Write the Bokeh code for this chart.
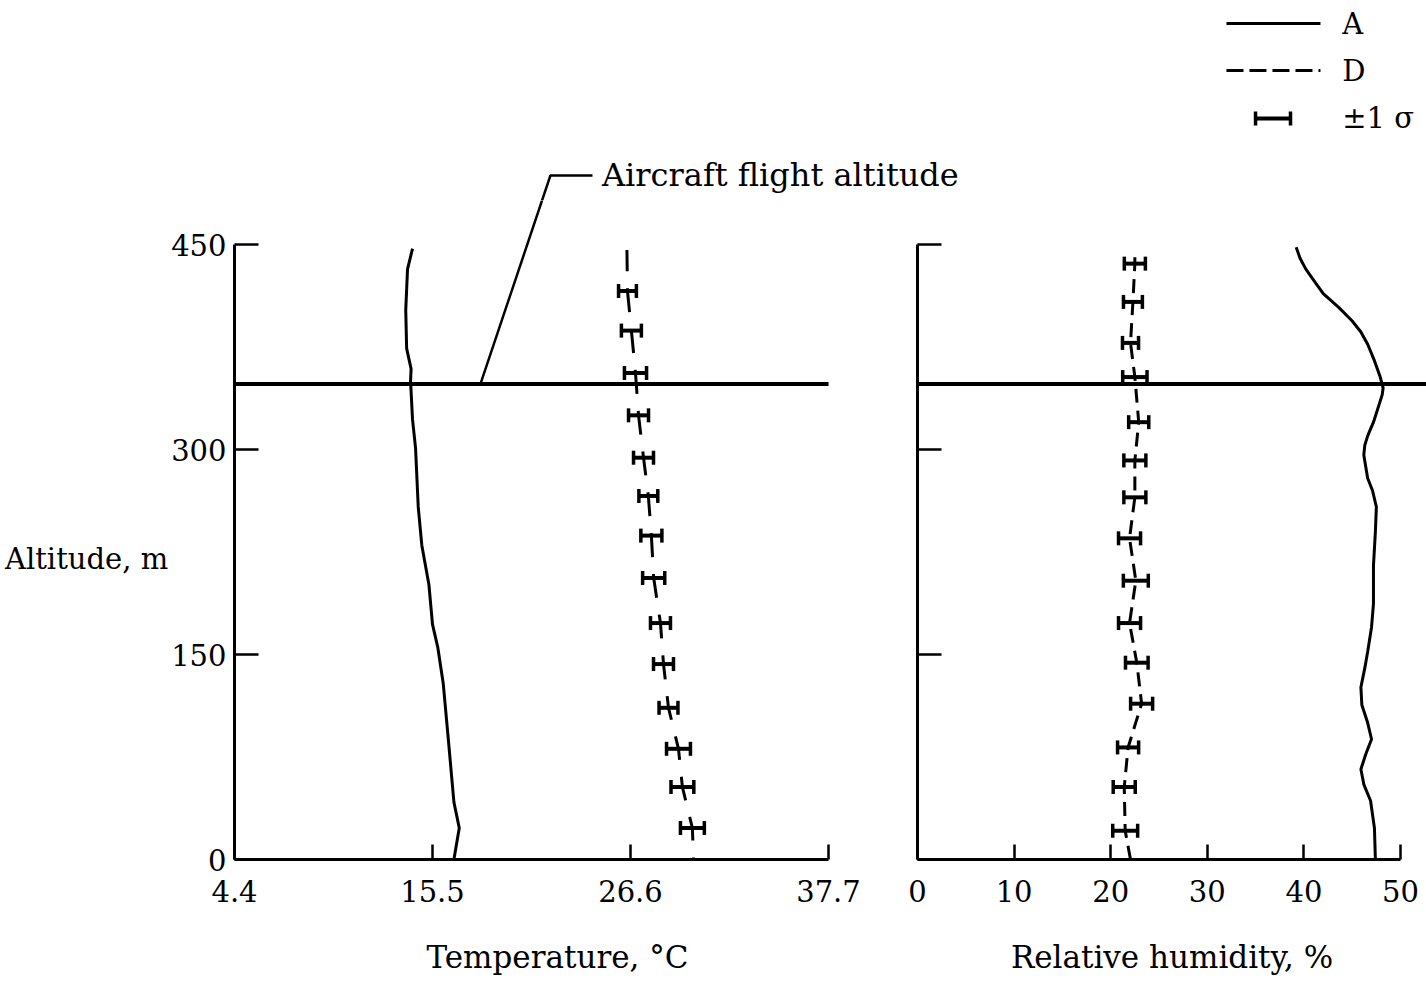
from bokeh.plotting import figure
from bokeh.models import Range1d, FixedTicker, Whisker, TeeHead, ColumnDataSource, Span
from bokeh.layouts import column, row
from bokeh.embed import file_html
from bokeh.resources import INLINE
from bokeh.core.properties import value

# ---------------- data ----------------
temp_ticks = [4.4, 15.5, 26.6, 37.7]
rh_ticks = [0, 10, 20, 30, 40, 50]
alt_ticks = [0, 150, 300, 450]
flight_alt = 348

# Temperature, profile A (solid)
temp_A_alt = [0, 23, 42, 86, 129, 155, 172, 201, 230, 258, 301, 322, 350, 359, 374, 402, 432, 447]
temp_A_val = [16.7, 17.0, 16.7, 16.4, 16.1, 15.8, 15.5, 15.3, 14.9, 14.7, 14.55, 14.38, 14.27, 14.3, 14.05, 14.0, 14.1, 14.38]

# Temperature, profile D (dashed) with +-1 sigma
temp_D_alt = [23, 53, 81, 111, 143, 173, 206, 237, 266, 294, 325, 356, 387, 416]
temp_D_mean = [30.07, 29.51, 29.29, 28.73, 28.45, 28.28, 27.9, 27.77, 27.6, 27.33, 27.05, 26.88, 26.65, 26.43]
temp_D_sigma = [0.67, 0.64, 0.67, 0.53, 0.56, 0.56, 0.62, 0.59, 0.53, 0.56, 0.56, 0.62, 0.56, 0.5]
temp_D_line_alt = [0] + temp_D_alt + [446]
temp_D_line_val = [30.13] + temp_D_mean + [26.4]

# Relative humidity, profile A (solid)
rh_A_alt = [0, 23, 43, 55, 66, 77, 88, 100, 113, 126, 140, 152, 170, 187, 215, 240, 258, 270, 279, 296, 303, 310, 320, 331, 340, 345, 353, 365, 377, 386, 394, 404, 414, 424, 432, 440, 448]
rh_A_val = [47.4, 47.3, 46.9, 46.2, 45.9, 46.4, 47.0, 46.6, 46.0, 45.9, 46.3, 46.6, 47.0, 47.2, 47.2, 47.4, 47.5, 47.1, 46.6, 46.2, 46.3, 46.6, 47.2, 47.7, 48.1, 48.2, 47.9, 47.3, 46.6, 45.9, 45.0, 43.6, 42.0, 41.0, 40.2, 39.6, 39.2]

# Relative humidity, profile D (dashed) with +-1 sigma
rh_D_alt = [21, 53, 82, 114, 144, 173, 204, 235, 265, 292, 320, 353, 378, 408, 436]
rh_D_mean = [21.5, 21.4, 21.8, 23.2, 22.7, 21.95, 22.6, 21.95, 22.5, 22.5, 22.9, 22.5, 22.05, 22.3, 22.5]
rh_D_sigma = [1.29, 1.14, 1.09, 1.14, 1.17, 1.14, 1.29, 1.14, 1.14, 1.14, 1.04, 1.26, 0.83, 0.98, 1.09]
rh_D_line_alt = [0] + rh_D_alt + [444]
rh_D_line_val = [22.05] + rh_D_mean + [22.5]

# ---------------- styling ----------------
FONT = "DejaVu Serif"
Y_TOP = 482.2          # altitude at the top of the panel frames
T_END = 40.615         # temperature at right edge of left frame
RH_END = 52.69         # humidity at right edge of right frame


def style_axes(p, xt, yt, show_ylabels=True):
    p.xgrid.grid_line_color = None
    p.ygrid.grid_line_color = None
    p.outline_line_color = None
    for ax in (p.xaxis[0], p.yaxis[0]):
        ax.axis_line_width = 3
        ax.axis_line_color = "black"
        ax.major_tick_line_width = 2.5
        ax.major_tick_line_color = "black"
        ax.major_tick_out = 0
        ax.minor_tick_in = 0
        ax.minor_tick_out = 0
        ax.major_label_text_font = FONT
        ax.major_label_text_font_size = "29px"
        ax.major_label_text_color = "black"
        ax.axis_label_text_font = FONT
        ax.axis_label_text_font_size = "31px"
        ax.axis_label_text_font_style = "normal"
        ax.axis_label_text_color = "black"
    p.xaxis[0].ticker = FixedTicker(ticks=xt)
    p.xaxis[0].bounds = (xt[0], xt[-1])
    p.xaxis[0].major_tick_in = 15
    p.xaxis[0].major_label_standoff = 20
    p.xaxis[0].axis_label_standoff = 34
    p.yaxis[0].ticker = FixedTicker(ticks=yt)
    p.yaxis[0].bounds = (yt[0], yt[-1])
    p.yaxis[0].major_tick_in = 24
    p.yaxis[0].major_label_standoff = 8
    if not show_ylabels:
        p.yaxis[0].major_label_overrides = {t: "" for t in yt}


def errbars(p, alt, mean, sigma):
    src = ColumnDataSource(dict(alt=alt,
                                lo=[m - s for m, s in zip(mean, sigma)],
                                hi=[m + s for m, s in zip(mean, sigma)]))
    w = Whisker(source=src, base="alt", lower="lo", upper="hi", dimension="width",
                line_width=4, line_color="black",
                lower_head=TeeHead(size=14, line_width=3.5, line_color="black"),
                upper_head=TeeHead(size=14, line_width=3.5, line_color="black"))
    p.add_layout(w)


# ---------------- header (legend + annotation) ----------------
header = figure(width=1426, height=200, x_range=Range1d(-8.718, 71.224),
                y_range=Range1d(Y_TOP, Y_TOP + 200 / 1.36667),
                output_backend="svg", toolbar_location=None,
                x_axis_location=None, y_axis_location=None,
                min_border=0, outline_line_color=None)
header.xgrid.grid_line_color = None
header.ygrid.grid_line_color = None

lead_x = [24.47, 22.11, 18.19]
lead_y = [500.5, 500.5, flight_alt]
header.line(lead_x, lead_y, line_color="black", line_width=2.5)
header.text(x=[25.0], y=[500.5], text=["Aircraft flight altitude"],
            text_font=value(FONT), text_font_size="32px", text_baseline="middle",
            text_align="left", text_color="black")

# legend
header.line([60.01, 65.28], [611.7, 611.7], line_color="black", line_width=3)
header.line([60.01, 65.28], [577.3, 577.3], line_color="black", line_width=3, line_dash="17 6")
lg_src = ColumnDataSource(dict(alt=[542.2], lo=[61.64], hi=[63.6]))
header.add_layout(Whisker(source=lg_src, base="alt", lower="lo", upper="hi", dimension="width",
                          line_width=4, line_color="black",
                          lower_head=TeeHead(size=14, line_width=3.5, line_color="black"),
                          upper_head=TeeHead(size=14, line_width=3.5, line_color="black")))
header.text(x=[66.5, 66.5, 66.5], y=[611.7, 577.3, 542.2], text=["A", "D", "\u00b11 \u03c3"],
            text_font=value(FONT), text_font_size="29px", text_baseline="middle",
            text_align="left", text_color="black")

# ---------------- left panel: temperature ----------------
left = figure(width=880, height=781, x_range=Range1d(4.4, T_END), y_range=Range1d(0, Y_TOP),
              output_backend="svg", toolbar_location=None,
              min_border_left=234, min_border_right=0, min_border_top=0, min_border_bottom=122)
style_axes(left, temp_ticks, alt_ticks)
left.xaxis[0].axis_label = "Temperature, \u00b0C"
left.yaxis[0].axis_label = "\n\nAltitude, m"
left.yaxis[0].axis_label_orientation = "horizontal"
left.yaxis[0].axis_label_standoff = 0
left.yaxis[0].axis_label_text_font_size = "29px"
left.yaxis[0].axis_label_text_line_height = 0.85

left.line(temp_A_val, temp_A_alt, line_color="black", line_width=3)
left.line(temp_D_line_val, temp_D_line_alt, line_color="black", line_width=3,
          line_dash="24 17", line_dash_offset=22)
errbars(left, temp_D_alt, temp_D_mean, temp_D_sigma)
left.segment(x0=[temp_ticks[0]], y0=[flight_alt], x1=[temp_ticks[-1]], y1=[flight_alt],
             line_color="black", line_width=4)
left.line(lead_x, lead_y, line_color="black", line_width=2.5)

# ---------------- right panel: relative humidity ----------------
right = figure(width=546, height=781, x_range=Range1d(0, RH_END), y_range=Range1d(0, Y_TOP),
               output_backend="svg", toolbar_location=None,
               min_border_left=37, min_border_right=0, min_border_top=0, min_border_bottom=122)
style_axes(right, rh_ticks, alt_ticks, show_ylabels=False)
right.xaxis[0].axis_label = "Relative humidity, %"

right.line(rh_A_val, rh_A_alt, line_color="black", line_width=3)
right.line(rh_D_line_val, rh_D_line_alt, line_color="black", line_width=3,
           line_dash="14 8")
errbars(right, rh_D_alt, rh_D_mean, rh_D_sigma)
right.add_layout(Span(location=flight_alt, dimension="width", line_color="black", line_width=4))

layout = column(header, row(left, right))
open("out.html", "w").write(file_html(layout, INLINE))
